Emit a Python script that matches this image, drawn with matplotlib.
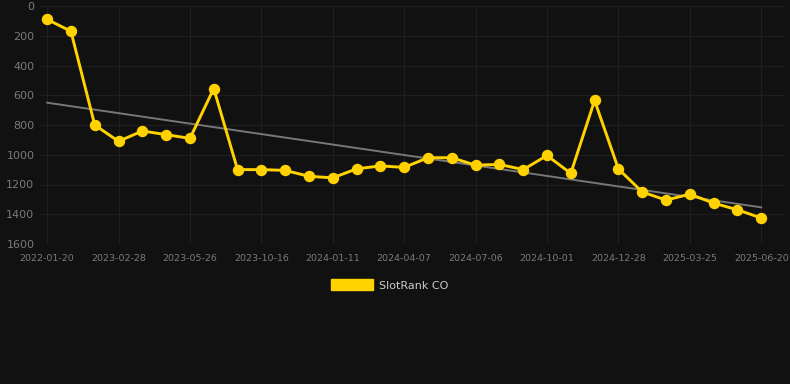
import matplotlib.pyplot as plt
import numpy as np
from matplotlib.patches import Patch

# Data (rank over time, lower is better -> inverted axis)
dates = ['2022-01-20', '2022-12-02', '2023-01-30', '2023-02-28', '2023-03-29',
         '2023-04-27', '2023-05-26', '2023-06-24', '2023-07-23', '2023-10-16',
         '2023-11-14', '2023-12-13', '2024-01-11', '2024-02-09', '2024-03-09',
         '2024-04-07', '2024-05-06', '2024-06-04', '2024-07-06', '2024-08-04',
         '2024-09-02', '2024-10-01', '2024-10-30', '2024-11-28', '2024-12-28',
         '2025-01-26', '2025-02-24', '2025-03-25', '2025-04-23', '2025-05-22',
         '2025-06-20']
ranks = [90, 170, 800, 910, 840, 865, 890, 555, 1100, 1100,
         1105, 1145, 1155, 1095, 1075, 1085, 1020, 1020, 1070, 1065,
         1100, 1005, 1125, 635, 1095, 1250, 1305, 1265, 1325, 1370,
         1425]
y_ticks = [0, 200, 400, 600, 800, 1000, 1200, 1400, 1600]

bg = '#111111'
yellow = '#FFD200'
tick_col = '#7a7a7a'
grid_col = '#1f1f1f'

x = np.arange(len(ranks))

fig = plt.figure(figsize=(7.9, 3.84), dpi=100, facecolor=bg)
ax = fig.add_axes([40 / 790, 1 - 244 / 384, 745 / 790, 238 / 384])
ax.set_facecolor(bg)

# Trend line (least squares fit)
k, b = np.polyfit(x, ranks, 1)
ax.plot(x, k * x + b, color='#777777', linewidth=1.4, zorder=2)

ax.plot(x, ranks, color=yellow, linewidth=2.1, marker='o', markersize=7.2,
        markerfacecolor=yellow, markeredgecolor=yellow, zorder=3)

ax.set_ylim(1600, 0)
ax.set_yticks(y_ticks)
ax.set_xlim(-0.3, 31.0)
ax.set_xticks(x[::3])
ax.set_xticklabels(dates[::3])

ax.tick_params(axis='y', colors=tick_col, labelsize=8, length=0, pad=4)
ax.tick_params(axis='x', colors=tick_col, labelsize=6.8, length=0, pad=7)
ax.grid(True, color=grid_col, linewidth=0.8)
ax.set_axisbelow(True)
for s in ax.spines.values():
    s.set_visible(False)

fig.legend(handles=[Patch(color=yellow, label='SlotRank CO')],
           loc='center', bbox_to_anchor=(390 / 790, 1 - 285 / 384),
           frameon=False, fontsize=8, labelcolor='#cccccc',
           handlelength=3.7, handleheight=1.1, handletextpad=0.6)

fig.savefig('out.png', dpi=100, facecolor=bg)
